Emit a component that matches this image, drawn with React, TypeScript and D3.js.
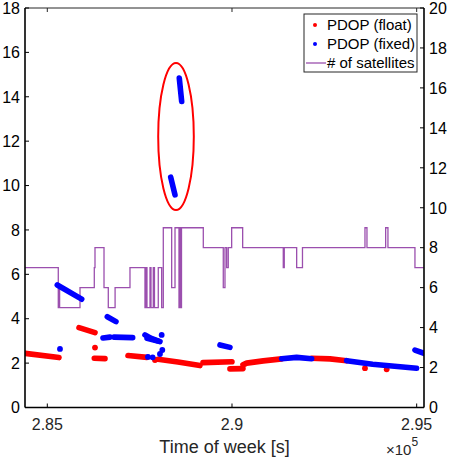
import React from "react";
import * as d3 from "d3";

// ---- data (time of week in seconds, PDOP, satellites) ----
const xTicks = [285000, 290000, 295000];
const xTickLabels = ["2.85", "2.9", "2.95"];
const leftTicks = [0, 2, 4, 6, 8, 10, 12, 14, 16, 18];
const rightTicks = [0, 2, 4, 6, 8, 10, 12, 14, 16, 18, 20];

// PDOP (float) — each entry is a run of dense samples
const floatSegments: [number, number][][] = [
  [[284400, 2.44], [285316, 2.25]],
  [[285858, 3.6], [286291, 3.37]],
  [[286291, 2.7]],
  [[286272, 2.22], [286562, 2.2]],
  [[287184, 2.34], [287698, 2.26]],
  [[287915, 2.14]],
  [[287996, 2.17], [288538, 2.05], [289133, 1.89]],
  [[289215, 2.02], [289999, 2.06]],
  [[289945, 1.74], [290297, 1.75]],
  [[290297, 1.92], [290397, 2.0], [290847, 2.1], [291345, 2.19]],
  [[292157, 2.22], [292653, 2.19], [293104, 2.11]],
  [[293600, 1.77]],
  [[294187, 1.72]],
];

// PDOP (fixed)
const fixedSegments: [number, number][][] = [
  [[285270, 5.52], [285931, 4.88]],
  [[285343, 2.64]],
  [[286624, 4.09], [286859, 3.87]],
  [[286507, 3.13], [286697, 3.17]],
  [[286805, 3.17], [287311, 3.15]],
  [[287644, 3.27], [287800, 3.12], [288050, 2.97]],
  [[287700, 3.12], [287990, 3.0]],
  [[288096, 3.27]],
  [[287725, 2.28]],
  [[287852, 2.26]],
  [[288050, 2.41]],
  [[288113, 2.59]],
  [[288340, 10.38], [288457, 9.58]],
  [[288573, 14.84], [288638, 13.79]],
  [[289675, 2.82], [289945, 2.71]],
  [[291345, 2.2], [291750, 2.26], [292157, 2.2]],
  [[293104, 2.11], [293806, 1.95], [294999, 1.77]],
  [[294953, 2.59], [295197, 2.44]],
];

// # of satellites, change points (step-after)
const satTimes = [
  284400, 285297, 285316, 285333, 285885, 286272, 286291, 286535, 286651,
  286835, 287238, 287644, 287671, 287698, 287780, 287807, 287869, 287901,
  288004, 288096, 288140, 288367, 288457, 288565, 288592, 288606, 288633,
  289223, 289764, 289810, 289856, 289899, 289991, 290289, 291388, 291415,
  291751, 291908, 293600, 293654, 294160, 294222, 294953, 295190,
];
const satCounts = [
  7, 5, 6, 5, 6, 7, 8, 6, 5,
  6, 7, 5, 7, 5, 7, 5, 7, 5,
  7, 5, 9, 6, 9, 5, 9, 5, 9,
  8, 6, 8, 7, 8, 9, 8, 7, 8,
  7, 8, 9, 8, 9, 8, 7, 7,
];

// highlight ellipse (center time, center PDOP, half-width s, half-height PDOP)
const ellipseAnno = { t: 288484, v: 12.21, rt: 482, rv: 3.31 };

const legendLabels = ["PDOP (float)", "PDOP (fixed)", "# of satellites"];

const RED = "#ff0000";
const BLUE = "#0000ff";
const PURPLE = "#9b4fae";
const FONT = "'Liberation Sans', Arial, Helvetica, sans-serif";

export default function App() {
  const W = 450, H = 462;
  const L = 25, R = 424, T = 8, B = 407.5;
  const x = d3.scaleLinear().domain([284396, 295198]).range([L, R]);
  const yL = d3.scaleLinear().domain([0, 18]).range([B, T]);
  const yR = d3.scaleLinear().domain([0, 20]).range([B, T]);

  const pd = d3
    .line<[number, number]>()
    .x((d) => x(d[0]))
    .y((d) => yL(d[1]));
  const satData = satTimes.map((t, i) => [t, satCounts[i]] as [number, number]);
  const satLine = d3
    .line<[number, number]>()
    .x((d) => x(d[0]))
    .y((d) => yR(d[1]))
    .curve(d3.curveStepAfter);

  const seg = (segs: [number, number][][], color: string, key: string) =>
    segs.map((s, i) =>
      s.length === 1 ? (
        <circle key={key + i} cx={x(s[0][0])} cy={yL(s[0][1])} r={2.9} fill={color} />
      ) : (
        <path
          key={key + i}
          d={pd(s) || ""}
          fill="none"
          stroke={color}
          strokeWidth={5.6}
          strokeLinecap="round"
          strokeLinejoin="round"
        />
      )
    );

  const ex = x(ellipseAnno.t);
  const ey = yL(ellipseAnno.v);
  const erx = x(ellipseAnno.t + ellipseAnno.rt) - ex;
  const ery = yL(ellipseAnno.v - ellipseAnno.rv) - ey;

  const legX = 304, legY = 14, legW = 113, legH = 58;
  const rows = [25, 44, 63];

  return (
    <svg
      width={W}
      height={H}
      style={{ position: "absolute", left: 0, top: 0, background: "#fff" }}
      fontFamily={FONT}
    >
      <defs>
        <clipPath id="plotclip">
          <rect x={L} y={T} width={R - L} height={B - T} />
        </clipPath>
      </defs>
      <rect x={0} y={0} width={W} height={H} fill="#fff" />

      <g clipPath="url(#plotclip)">
        <path d={satLine(satData) || ""} fill="none" stroke={PURPLE} strokeWidth={1.3} />
        {seg(floatSegments, RED, "f")}
        {seg(fixedSegments, BLUE, "x")}
        <ellipse cx={ex} cy={ey} rx={erx} ry={ery} fill="none" stroke={RED} strokeWidth={2} />
      </g>

      {/* axes box */}
      <line x1={L} y1={T} x2={R} y2={T} stroke="#262626" strokeWidth={1} />
      <line x1={L} y1={B} x2={R} y2={B} stroke="#000" strokeWidth={1.6} />
      <line x1={L} y1={T} x2={L} y2={B} stroke="#000" strokeWidth={1.6} />
      <line x1={R} y1={T} x2={R} y2={B} stroke="#000" strokeWidth={1.6} />

      {/* x ticks */}
      {xTicks.map((t, i) => (
        <g key={"xt" + i}>
          <line x1={x(t)} x2={x(t)} y1={B} y2={B - 4} stroke="#000" strokeWidth={1} />
          <line x1={x(t)} x2={x(t)} y1={T} y2={T + 4} stroke="#262626" strokeWidth={1} />
          <text x={x(t)} y={430} fontSize={16} textAnchor="middle" fill="#262626">
            {xTickLabels[i]}
          </text>
        </g>
      ))}

      {/* left ticks */}
      {leftTicks.map((v) => (
        <g key={"lt" + v}>
          <line x1={L} x2={L + 4} y1={yL(v)} y2={yL(v)} stroke="#000" strokeWidth={1} />
          <text x={20} y={yL(v)} dy="0.36em" fontSize={16} textAnchor="end" fill="#000">
            {v}
          </text>
        </g>
      ))}

      {/* right ticks */}
      {rightTicks.map((v) => (
        <g key={"rt" + v}>
          <line x1={R - 4} x2={R} y1={yR(v)} y2={yR(v)} stroke="#000" strokeWidth={1} />
          <text x={429} y={yR(v)} dy="0.36em" fontSize={16} textAnchor="start" fill="#000">
            {v}
          </text>
        </g>
      ))}

      {/* x label */}
      <text x={(L + R) / 2} y={453} fontSize={18} textAnchor="middle" fill="#262626">
        Time of week [s]
      </text>
      <text x={386} y={455} fontSize={15} fill="#262626">
        ×10
        <tspan fontSize={12} dy={-9}>
          5
        </tspan>
      </text>

      {/* legend */}
      <rect x={legX} y={legY} width={legW} height={legH} fill="#fff" stroke="#262626" strokeWidth={1} />
      <circle cx={315} cy={rows[0]} r={2} fill={RED} />
      <circle cx={315} cy={rows[1]} r={2} fill={BLUE} />
      <line x1={306} x2={326} y1={rows[2]} y2={rows[2]} stroke={PURPLE} strokeWidth={1.3} />
      {legendLabels.map((s, i) => (
        <text key={"lg" + i} x={327} y={rows[i]} dy="0.36em" fontSize={15} fill="#000">
          {s}
        </text>
      ))}
    </svg>
  );
}
